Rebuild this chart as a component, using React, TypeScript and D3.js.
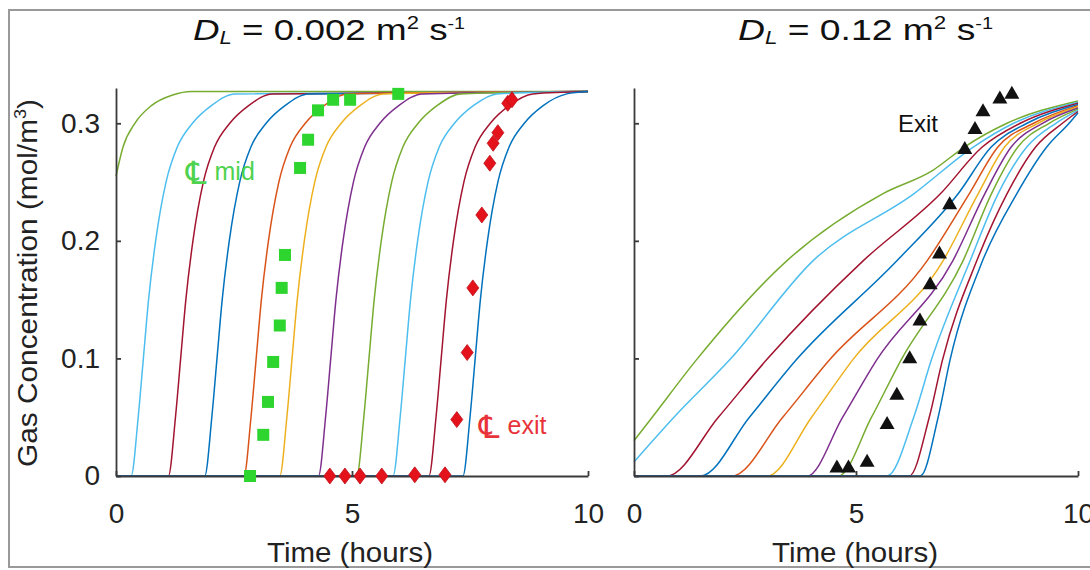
import React, { useEffect, useRef } from 'react';
import * as d3 from 'd3';

const WIDTH = 1090;
const HEIGHT = 570;
const FONT = '"Liberation Sans", Arial, Helvetica, sans-serif';

const X_TICKS = [0, 5, 10];
const Y_TICKS = [0, 0.1, 0.2, 0.3];
const Y_TICK_LABELS = ['0', '0.1', '0.2', '0.3'];

// matlab line order, starting from the green one
const LINE_COLORS = [
  '#77AC30', '#4DBEEE', '#A2142F', '#0072BD', '#D95319', '#EDB120',
  '#7E2F8E', '#77AC30', '#4DBEEE', '#A2142F', '#0072BD',
];

// left panel, D_L = 0.002: time (h) at which each curve reaches each level
const LEFT_LEVELS = [0, 0.05, 0.1, 0.15, 0.2, 0.25, 0.28, 0.3, 0.315, 0.325];
const LEFT_PLATEAU = 0.327;
const LEFT_FIRST: [number, number][] = [
  [0, 0.255], [0.15, 0.28], [0.4, 0.3], [0.75, 0.315], [1.2, 0.324], [1.6, 0.327], [10, 0.327],
];
const LEFT_TIMES = [
  [0.32, 0.47, 0.58, 0.69, 0.84, 1.06, 1.30, 1.62, 2.02, 2.52],
  [1.11, 1.26, 1.37, 1.48, 1.63, 1.85, 2.09, 2.41, 2.81, 3.31],
  [1.88, 2.03, 2.14, 2.25, 2.40, 2.62, 2.86, 3.18, 3.58, 4.08],
  [2.71, 2.86, 2.97, 3.08, 3.23, 3.45, 3.69, 4.01, 4.41, 4.91],
  [3.47, 3.62, 3.73, 3.84, 3.99, 4.21, 4.45, 4.77, 5.17, 5.67],
  [4.29, 4.44, 4.55, 4.66, 4.81, 5.03, 5.27, 5.59, 5.99, 6.49],
  [5.10, 5.25, 5.36, 5.47, 5.62, 5.84, 6.08, 6.40, 6.80, 7.30],
  [5.87, 6.02, 6.13, 6.24, 6.39, 6.61, 6.85, 7.17, 7.57, 8.07],
  [6.63, 6.78, 6.89, 7.00, 7.15, 7.37, 7.61, 7.93, 8.33, 8.83],
  [7.35, 7.50, 7.61, 7.72, 7.87, 8.09, 8.33, 8.65, 9.05, 9.55],
];

// measured points, left panel
const MID_TIME = [2.84, 3.12, 3.22, 3.33, 3.47, 3.51, 3.58, 3.90, 4.07, 4.28, 4.60, 4.96, 5.98];
const MID_CONC = [0, 0.035, 0.063, 0.097, 0.128, 0.16, 0.188, 0.262, 0.286, 0.311, 0.32, 0.32, 0.325];
const EXIT_TIME = [4.53, 4.85, 5.17, 5.63, 6.33, 6.97, 7.22, 7.44, 7.56, 7.75, 7.92, 7.99, 8.09, 8.30, 8.39];
const EXIT_CONC = [0, 0, 0, 0, 0.001, 0.001, 0.048, 0.105, 0.16, 0.222, 0.266, 0.283, 0.292, 0.317, 0.32];

// right panel, D_L = 0.12
const RIGHT_CURVES: [number, number][][] = [
  [[0, 0.03], [0.41, 0.05], [1.41, 0.099], [3.44, 0.183], [5.6, 0.24], [6.73, 0.26], [7.45, 0.28], [8.4, 0.3], [10, 0.319]],
  [[0, 0.012], [0.9, 0.05], [2.16, 0.099], [4.03, 0.183], [6.3, 0.24], [7.65, 0.28], [8.55, 0.3], [10, 0.318]],
  [[0, 0], [0.74, 0], [1.9, 0.05], [2.99, 0.099], [5.16, 0.183], [6.9, 0.24], [7.85, 0.28], [8.7, 0.3], [10, 0.317]],
  [[0, 0], [1.5, 0], [2.6, 0.05], [3.66, 0.099], [5.92, 0.183], [7.3, 0.24], [8.05, 0.28], [8.85, 0.3], [10, 0.316]],
  [[0, 0], [2.2, 0], [3.35, 0.05], [4.41, 0.099], [6.6, 0.183], [7.55, 0.24], [8.2, 0.28], [9.0, 0.3], [10, 0.315]],
  [[0, 0], [3.0, 0], [4.0, 0.05], [4.93, 0.099], [6.96, 0.183], [7.75, 0.24], [8.35, 0.28], [9.1, 0.3], [10, 0.314]],
  [[0, 0], [3.9, 0], [4.7, 0.05], [5.47, 0.099], [7.18, 0.183], [7.9, 0.24], [8.5, 0.28], [9.2, 0.3], [10, 0.313]],
  [[0, 0], [4.6, 0], [5.35, 0.05], [6.02, 0.099], [7.41, 0.183], [8.05, 0.24], [8.65, 0.28], [9.35, 0.3], [10, 0.312]],
  [[0, 0], [5.7, 0], [6.3, 0.05], [6.7, 0.099], [7.57, 0.183], [8.2, 0.24], [8.85, 0.28], [9.5, 0.3], [10, 0.311]],
  [[0, 0], [6.2, 0], [6.65, 0.05], [6.95, 0.099], [7.72, 0.183], [8.4, 0.24], [9.05, 0.28], [9.65, 0.3], [10, 0.31]],
  [[0, 0], [6.45, 0], [6.85, 0.05], [7.12, 0.099], [7.85, 0.183], [8.62, 0.24], [9.3, 0.28], [9.8, 0.3], [10, 0.309]],
];
const RIGHT_EXIT_TIME = [4.57, 4.83, 5.25, 5.70, 5.92, 6.21, 6.44, 6.67, 6.88, 7.11, 7.45, 7.68, 7.86, 8.24, 8.51];
const RIGHT_EXIT_CONC = [0.008, 0.008, 0.013, 0.045, 0.07, 0.101, 0.133, 0.164, 0.19, 0.232, 0.279, 0.296, 0.311, 0.322, 0.326];

const xLeft = d3.scaleLinear().domain([0, 10]).range([116, 588]);
const xRight = d3.scaleLinear().domain([0, 10]).range([634, 1078]);
const y = d3.scaleLinear().domain([0, 0.33]).range([476, 88]);

const leftSeries: [number, number][][] = [
  LEFT_FIRST,
  ...LEFT_TIMES.map((row) => [
    [0, 0] as [number, number],
    ...row.map((t, i) => [t, LEFT_LEVELS[i]] as [number, number]),
    [10, LEFT_PLATEAU] as [number, number],
  ]),
];

const DIAMOND = 'M0,-8L6,0L0,8L-6,0Z';
const TRIANGLE = 'M0,-7L7.5,6L-7.5,6Z';

function Axes({ x, labels }: { x: d3.ScaleLinear<number, number>; labels: boolean }) {
  const gx = useRef<SVGGElement>(null);
  const gy = useRef<SVGGElement>(null);

  useEffect(() => {
    const xAxis = d3.axisBottom(x).tickValues(X_TICKS).tickSizeInner(-5).tickSizeOuter(0).tickPadding(27)
      .tickFormat((d) => String(d));
    const yAxis = d3.axisLeft(y).tickValues(Y_TICKS).tickSizeInner(-5).tickSizeOuter(0).tickPadding(16)
      .tickFormat((d, i) => (labels ? Y_TICK_LABELS[i] : ''));
    const sx = d3.select(gx.current!).call(xAxis);
    const sy = d3.select(gy.current!).call(yAxis);
    [sx, sy].forEach((s) => {
      s.selectAll('path, line').attr('stroke', '#3a3a3a').attr('stroke-width', 1.8);
      s.selectAll('text').attr('font-family', FONT).attr('font-size', 28).attr('fill', '#222');
    });
  }, [x, labels]);

  return (
    <g>
      <g ref={gx} transform={`translate(0,${y(0)})`} />
      <g ref={gy} transform={`translate(${x(0)},0)`} />
    </g>
  );
}

function CenterLineLabel({ x, yPos, word, color }: { x: number; yPos: number; word: string; color: string }) {
  return (
    <text x={x} y={yPos} fontSize={25} fill={color}>
      <tspan fontFamily='"DejaVu Sans", sans-serif' fontSize={32} dy={4}>{'\u2104'}</tspan>
      <tspan dx={8} dy={-4}>{word}</tspan>
    </text>
  );
}

export default function App() {
  const lineL = d3.line<[number, number]>().x((d) => xLeft(d[0])).y((d) => y(d[1])).curve(d3.curveMonotoneX);
  const lineR = d3.line<[number, number]>().x((d) => xRight(d[0])).y((d) => y(d[1])).curve(d3.curveMonotoneX);

  return (
    <svg width={WIDTH} height={HEIGHT} style={{ position: 'absolute', left: 0, top: 0, background: '#fff' }}
      fontFamily={FONT}>
      <rect x={9} y={10} width={1100} height={557} fill="#fff" stroke="#999" strokeWidth={2} />

      {/* titles */}
      <text x={193} y={40} fontSize={30} fill="#111" textLength={272} lengthAdjust="spacingAndGlyphs">
        <tspan fontStyle="italic">D</tspan>
        <tspan fontStyle="italic" fontSize={18} dy={4}>L</tspan>
        <tspan dy={-4}> = 0.002 m</tspan>
        <tspan fontSize={18} dy={-11}>2</tspan>
        <tspan dy={11}> s</tspan>
        <tspan fontSize={16} dy={-11}>-1</tspan>
      </text>
      <text x={738} y={40} fontSize={30} fill="#111" textLength={255} lengthAdjust="spacingAndGlyphs">
        <tspan fontStyle="italic">D</tspan>
        <tspan fontStyle="italic" fontSize={18} dy={4}>L</tspan>
        <tspan dy={-4}> = 0.12 m</tspan>
        <tspan fontSize={18} dy={-11}>2</tspan>
        <tspan dy={11}> s</tspan>
        <tspan fontSize={16} dy={-11}>-1</tspan>
      </text>

      {/* curves */}
      <g fill="none" strokeWidth={1.5}>
        {leftSeries.map((s, i) => (
          <path key={`l${i}`} d={lineL(s) ?? ''} stroke={LINE_COLORS[i]} />
        ))}
        {RIGHT_CURVES.map((s, i) => (
          <path key={`r${i}`} d={lineR(s) ?? ''} stroke={LINE_COLORS[i]} />
        ))}
      </g>

      <Axes x={xLeft} labels={true} />
      <Axes x={xRight} labels={false} />

      {/* measured points */}
      {MID_TIME.map((t, i) => (
        <rect key={`m${i}`} x={xLeft(t) - 6} y={y(MID_CONC[i]) - 6} width={12} height={12} fill="#2fd52f" />
      ))}
      {EXIT_TIME.map((t, i) => (
        <path key={`e${i}`} d={DIAMOND} transform={`translate(${xLeft(t)},${y(EXIT_CONC[i])})`}
          fill="#e3121b" stroke="#c0101a" strokeWidth={0.8} />
      ))}
      {RIGHT_EXIT_TIME.map((t, i) => (
        <path key={`t${i}`} d={TRIANGLE} transform={`translate(${xRight(t)},${y(RIGHT_EXIT_CONC[i])})`}
          fill="#111" />
      ))}

      {/* annotations */}
      <CenterLineLabel x={186} yPos={180} word="mid" color="#4fd24f" />
      <CenterLineLabel x={479} yPos={434} word="exit" color="#e8333a" />
      <text x={898} y={132} fontSize={24} fill="#111">Exit</text>

      {/* axis titles */}
      <text x={350} y={562} fontSize={28} textAnchor="middle" fill="#222" textLength={166}
        lengthAdjust="spacingAndGlyphs">Time (hours)</text>
      <text x={855} y={562} fontSize={28} textAnchor="middle" fill="#222" textLength={166}
        lengthAdjust="spacingAndGlyphs">Time (hours)</text>
      <text transform="translate(37,283) rotate(-90)" fontSize={28} textAnchor="middle" fill="#222"
        textLength={368} lengthAdjust="spacingAndGlyphs">
        Gas Concentration (mol/m<tspan fontSize={17} dy={-11}>3</tspan><tspan dy={11}>)</tspan>
      </text>
    </svg>
  );
}
